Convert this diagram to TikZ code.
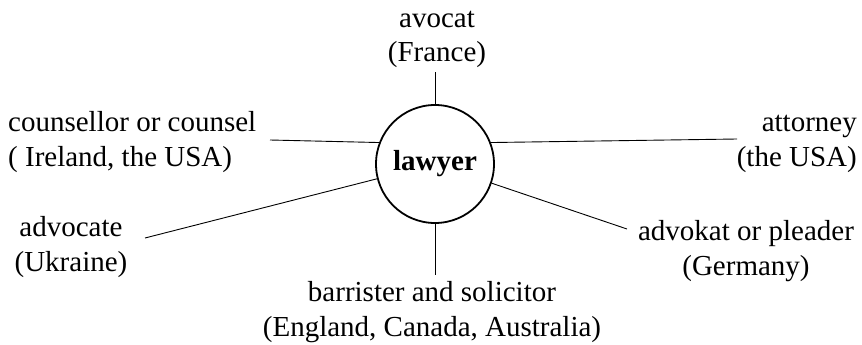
\documentclass[tikz,border=0pt]{standalone}
\usepackage{fontspec}
\setmainfont{Liberation Serif}
\begin{document}
\begin{tikzpicture}[x=1pt,y=-1pt,
  lbl/.style={inner sep=0pt,font=\fontsize{29}{34.5}\selectfont},
  hub/.style={circle,draw,line width=1.8pt,minimum size=118pt,inner sep=0pt,font=\fontsize{29}{34}\selectfont\bfseries},
  spoke/.style={line width=0.9pt}]
\useasboundingbox (0,0) rectangle (862,345);
\node[hub] (law) at (435,164) {lawyer};
\node[lbl,align=center,anchor=base] (fr) at (437,62) {avocat\\(France)};
\node[lbl,align=left,anchor=base west] (ie) at (8,166) {counsellor or counsel\\( Ireland, the USA)};
\node[lbl,align=center,anchor=base] (ua) at (71,271) {advocate\\(Ukraine)};
\node[lbl,align=right,anchor=base east] (us) at (857,166) {attorney\\(the USA)};
\node[lbl,align=center,anchor=base] (de) at (746,275) {advokat or pleader\\(Germany)};
\node[lbl,align=center,anchor=base] (en) at (432,336) {barrister and solicitor\\(England, Canada, Australia)};
\coordinate (cfr) at (435,72);
\coordinate (cie) at (270,140);
\coordinate (cua) at (145,238);
\coordinate (cus) at (737,139);
\coordinate (cde) at (627,229);
\coordinate (cen) at (435,275);
\draw[spoke] (law) -- (cfr);
\draw[spoke] (law.159) -- (cie);
\draw[spoke] (law) -- (cua);
\draw[spoke] (law.21) -- (cus);
\draw[spoke] (law) -- (cde);
\draw[spoke] (law) -- (cen);
\end{tikzpicture}
\end{document}
